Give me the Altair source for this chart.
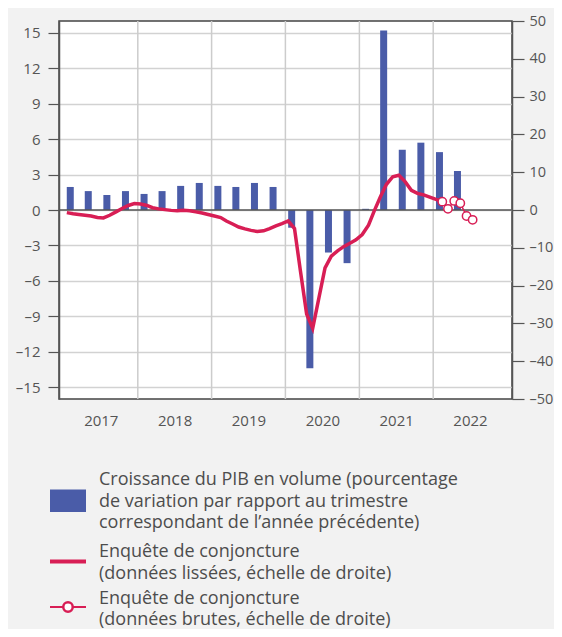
import altair as alt
import pandas as pd

# ---------------- data ----------------
year_labels = ["2017", "2018", "2019", "2020", "2021", "2022"]
year_bounds = ["2018-01-01T00:00:00", "2019-01-01T00:00:00", "2020-01-01T00:00:00",
               "2021-01-01T00:00:00", "2022-01-01T00:00:00"]

# quarterly GDP growth (left scale), 2017Q1 .. 2022Q2
gdp_growth = [1.95, 1.6, 1.27, 1.6,
              1.36, 1.6, 2.04, 2.29,
              2.04, 1.95, 2.29, 1.95,
              -1.5, -13.4, -3.6, -4.5,
              0.1, 15.2, 5.1, 5.7,
              4.9, 3.3]

# smoothed survey (right scale), monthly Jan 2017 .. Feb 2022
survey_smooth = [-0.7, -1.0, -1.2, -1.4, -1.6, -2.0, -2.1, -1.4, -0.5, 0.4, 1.2, 1.7,
                 1.6, 1.2, 0.6, 0.3, 0.1, -0.1, -0.2, -0.1, -0.2, -0.5, -0.8, -1.2,
                 -1.6, -2.0, -2.9, -3.7, -4.5, -5.0, -5.4, -5.7, -5.5, -4.9, -4.2, -3.6,
                 -2.9, -4.9, -16.0, -27.5, -31.3, -23.2, -15.3, -12.2, -10.8, -9.7, -8.8, -7.9,
                 -6.5, -4.0, -0.3, 3.5, 6.8, 8.8, 9.2, 7.5, 5.2, 4.4, 4.0, 3.4,
                 2.8, 2.2]

# raw survey (right scale), monthly Feb 2022 .. Jul 2022
survey_raw = [2.2, 0.3, 2.4, 1.8, -1.6, -2.6]

legend_gdp = ["Croissance du PIB en volume (pourcentage",
              "de variation par rapport au trimestre",
              "correspondant de l\u2019ann\u00e9e pr\u00e9c\u00e9dente)"]
legend_smooth = ["Enqu\u00eate de conjoncture",
                 "(donn\u00e9es liss\u00e9es, \u00e9chelle de droite)"]
legend_raw = ["Enqu\u00eate de conjoncture",
              "(donn\u00e9es brutes, \u00e9chelle de droite)"]

# ---------------- tables ----------------
bar_dates = pd.date_range("2017-02-01", periods=len(gdp_growth), freq="3MS")
df_bar = pd.DataFrame({"date": bar_dates, "gdp": gdp_growth})

smooth_dates = pd.date_range("2017-01-01", periods=len(survey_smooth), freq="MS") + pd.Timedelta(days=14)
df_smooth = pd.DataFrame({"date": smooth_dates, "val": survey_smooth})

raw_dates = pd.date_range("2022-02-01", periods=len(survey_raw), freq="MS") + pd.Timedelta(days=14)
df_raw = pd.DataFrame({"date": raw_dates, "val": survey_raw})

df_grid = pd.DataFrame({"date": pd.to_datetime(year_bounds)})
df_zero = pd.DataFrame({"gdp": [0]})
df_one = pd.DataFrame({"k": [0]})

BLUE = "#4a5ca8"
RED = "#d81e55"
AX = "#555555"
TXT = "#4d4d4d"
FONT = "Open Sans"

xscale = alt.Scale(domain=["2017-01-01T00:00:00", "2023-01-01T00:00:00"])
xaxis = alt.Axis(values=[alt.DateTime(year=int(y), month=7, date=2) for y in year_labels],
                 format="%Y", grid=False, ticks=False, domain=False, labelPadding=14,
                 labelFontSize=15, labelColor=AX, labelFont=FONT, title=None)
X = alt.X("date:T", scale=xscale, axis=xaxis)

yleft = alt.Y("gdp:Q",
              scale=alt.Scale(domain=[-16, 16], nice=False, zero=False),
              axis=alt.Axis(orient="left", values=list(range(-15, 16, 3)), grid=True,
                            gridColor="#d2d2d2", gridWidth=1.5, tickSize=11, tickColor=AX,
                            tickWidth=1.2, domainColor=AX, domainWidth=1.5, labelPadding=8,
                            labelFontSize=15, labelColor=AX, labelFont=FONT,
                            labelExpr="datum.value < 0 ? '\u2013' + abs(datum.value) : datum.label",
                            labelOverlap=False, labelFlush=False, title=None))

yright = alt.Y("val:Q",
               scale=alt.Scale(domain=[-50, 50], nice=False, zero=False),
               axis=alt.Axis(orient="right", values=list(range(-50, 51, 10)), grid=False,
                             tickSize=12, tickColor=AX, tickWidth=1.2, domainColor=AX,
                             domainWidth=1.5, labelPadding=5, labelFontSize=14.5,
                             labelExpr="datum.value < 0 ? '\u2013' + abs(datum.value) : datum.label",
                             labelOverlap=False, labelFlush=False,
                             labelColor=AX, labelFont=FONT, title=None))

vgrid = alt.Chart(df_grid).mark_rule(color="#cccccc", strokeWidth=1.5).encode(x=X)
bars = alt.Chart(df_bar).mark_bar(color=BLUE, size=7).encode(x=X, y=yleft)
zero = alt.Chart(df_zero).mark_rule(color=AX, strokeWidth=1.5).encode(y=yleft)

# legend (drawn below the plot in pixel coordinates)
leg_rect = alt.Chart(df_one).mark_rect(color=BLUE).encode(
    x=alt.value(-9), x2=alt.value(27), y=alt.value(468.5), y2=alt.value(491))
leg_line1 = alt.Chart(df_one).mark_rule(color=RED, strokeWidth=4).encode(
    x=alt.value(-9), x2=alt.value(27), y=alt.value(540.5))
leg_line2 = alt.Chart(df_one).mark_rule(color=RED, strokeWidth=2).encode(
    x=alt.value(-9), x2=alt.value(27), y=alt.value(586))
leg_circ = alt.Chart(df_one).mark_point(shape="circle", filled=True, fill="white",
                                        stroke=RED, strokeWidth=2.5, size=90, opacity=1).encode(
    x=alt.value(9), y=alt.value(586))


def leg_text(lines, y):
    return alt.Chart(df_one).mark_text(align="left", baseline="alphabetic", font=FONT,
                                       fontSize=18, color=TXT, lineHeight=21.5).encode(
        x=alt.value(40), y=alt.value(y), text=alt.value(lines))


left = alt.layer(vgrid, bars, zero, leg_rect, leg_line1, leg_line2, leg_circ,
                 leg_text(legend_gdp, 464), leg_text(legend_smooth, 536),
                 leg_text(legend_raw, 582.5))

smooth = alt.Chart(df_smooth).mark_line(color=RED, strokeWidth=3.5).encode(x=X, y=yright)
raw_line = alt.Chart(df_raw).mark_line(color=RED, strokeWidth=1.5).encode(x=X, y=yright)
raw_pts = alt.Chart(df_raw).mark_point(shape="circle", filled=True, fill="white", stroke=RED,
                                       strokeWidth=1.5, size=70, opacity=1).encode(x=X, y=yright)
right = alt.layer(smooth, raw_line, raw_pts)

chart = alt.layer(left, right).resolve_scale(y="independent").properties(
    width=453, height=378, background="#f2f2f2",
    autosize=alt.AutoSizeParams(type="none"),
    padding={"left": 51, "top": 13, "right": 42, "bottom": 230}
).configure_view(fill="white", stroke="#444444", strokeWidth=1.5)

chart.save("out.html", embed_options={"renderer": "svg", "actions": False})
